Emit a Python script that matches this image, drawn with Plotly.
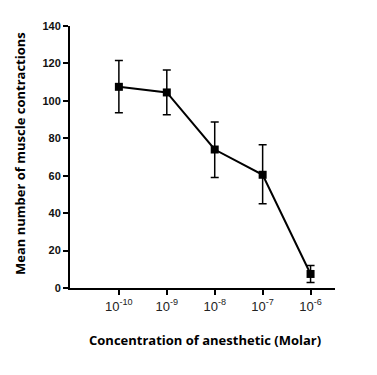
import plotly.graph_objects as go

concentrations = [1e-10, 1e-9, 1e-8, 1e-7, 1e-6]
tick_labels = ["10<sup>-10</sup>", "10<sup>-9</sup>", "10<sup>-8</sup>", "10<sup>-7</sup>", "10<sup>-6</sup>"]
mean_contractions = [107.5, 104.5, 74, 60.5, 7.5]
upper_bound = [121.5, 116.5, 88.7, 76.6, 12]
lower_bound = [93.7, 92.6, 59, 45, 3]

err_plus = [u - m for u, m in zip(upper_bound, mean_contractions)]
err_minus = [m - l for m, l in zip(mean_contractions, lower_bound)]

fig = go.Figure(go.Scatter(
    x=concentrations, y=mean_contractions, mode="lines+markers",
    line=dict(color="black", width=2),
    marker=dict(symbol="square", size=8, color="black"),
    error_y=dict(type="data", symmetric=False, array=err_plus, arrayminus=err_minus,
                 color="black", thickness=1.5, width=4),
    cliponaxis=False,
))

title_font = dict(size=13, family="Open Sans, Liberation Sans", color="black")

# page body has an 8px default margin, so the figure is 8px smaller and shifted
fig.update_layout(
    width=369, height=367,
    margin=dict(l=62, r=42, t=18, b=87),
    paper_bgcolor="white", plot_bgcolor="white",
    showlegend=False,
    font=dict(family="Liberation Sans, Arial", color="black"),
    annotations=[
        dict(text="<b>Concentration of anesthetic (Molar)</b>", xref="paper", yref="paper",
             x=0.51, y=-0.198, xanchor="center", yanchor="middle", showarrow=False, font=title_font),
        dict(text="<b>Mean number of muscle contractions</b>", xref="paper", yref="paper",
             x=-0.189, y=0.515, xanchor="center", yanchor="middle", showarrow=False,
             textangle=-90, font=title_font),
    ],
)
fig.update_xaxes(
    type="log", range=[-11.02, -5.49], automargin=False,
    tickvals=concentrations, ticktext=tick_labels,
    showgrid=False, zeroline=False,
    showline=True, linecolor="black", linewidth=2,
    ticks="outside", ticklen=5, tickwidth=2, tickcolor="black",
    tickfont=dict(size=13, family="Liberation Sans, Arial", color="#222"),
)
fig.update_yaxes(
    range=[0, 140], tickvals=[0, 20, 40, 60, 80, 100, 120, 140], automargin=False,
    showgrid=False, zeroline=False,
    showline=True, linecolor="black", linewidth=2,
    ticks="outside", ticklen=5, tickwidth=2, tickcolor="black",
    tickfont=dict(size=11, family="Liberation Sans, Arial", color="#111", weight="bold"),
)

fig.write_html("out.html")
